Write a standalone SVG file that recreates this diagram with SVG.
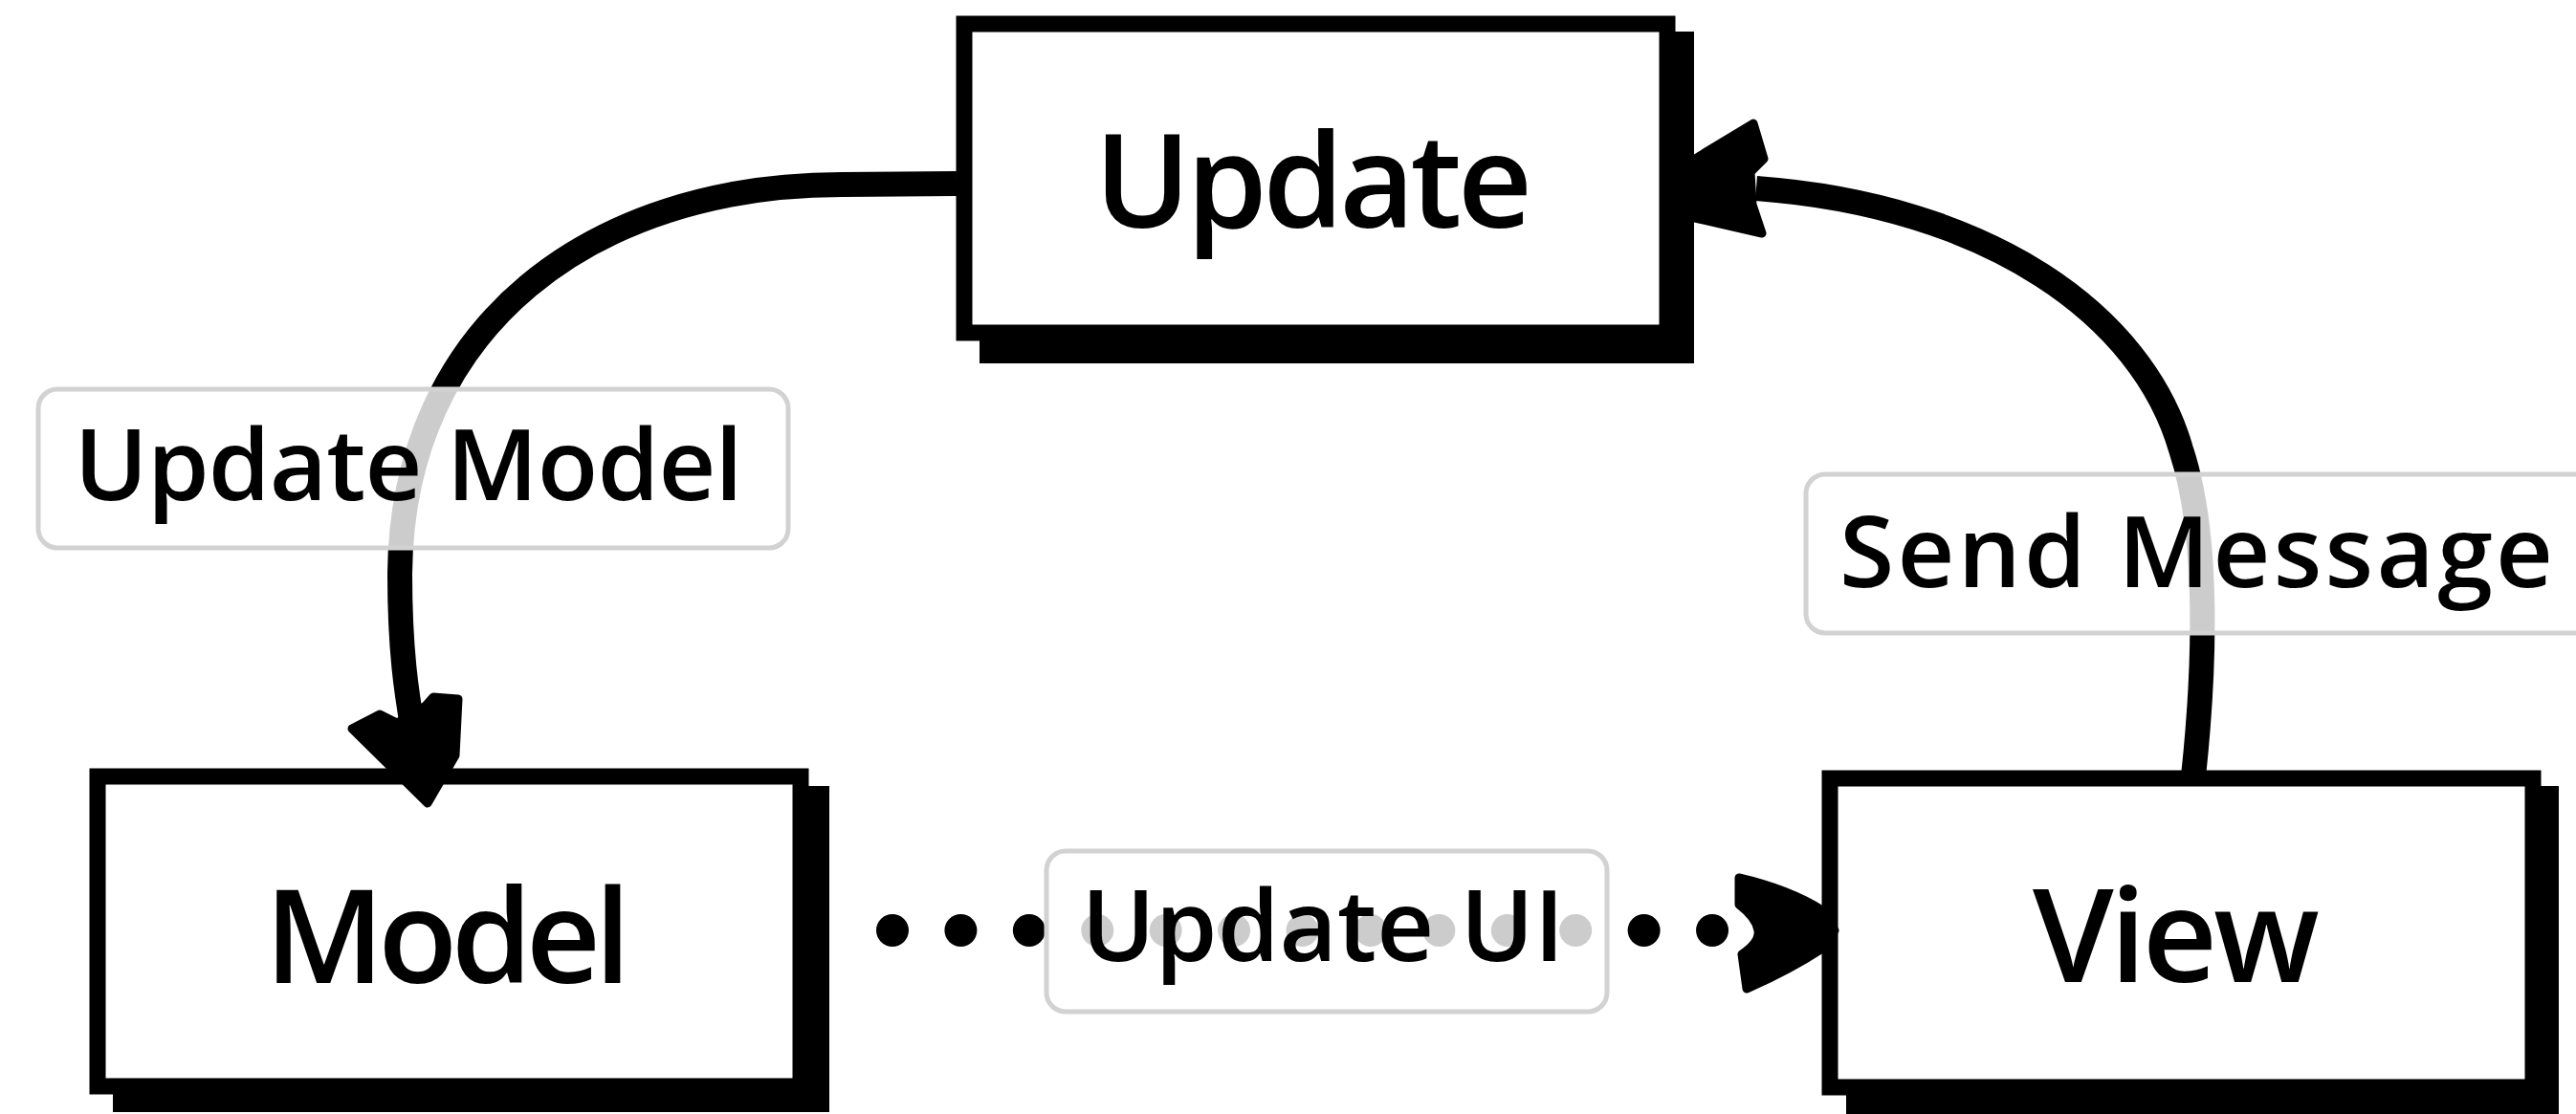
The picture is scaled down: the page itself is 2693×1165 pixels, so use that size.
<svg xmlns="http://www.w3.org/2000/svg" width="2693" height="1165" viewBox="0 0 2693 1165">
  <style>
    .shadow { fill: #000; }
    .frame { fill: #fff; stroke: #000; stroke-width: 17; stroke-linejoin: miter; }
    .node-text { font-family: "Open Sans", "Lato", "Liberation Sans", sans-serif; font-weight: 600; font-size: 136px; fill: #000; text-anchor: middle; }
    .edge { fill: none; stroke: #000; stroke-width: 26; stroke-linecap: butt; stroke-linejoin: round; }
    .dots { fill: none; stroke: #000; stroke-width: 34; stroke-linecap: round; stroke-dasharray: 0 71.42; }
    .head { fill: #000; stroke: #000; stroke-width: 9; stroke-linejoin: round; }
    .label-bg { fill: #fff; fill-opacity: 0.8; stroke: #d2d2d2; stroke-width: 5; }
    .label-text { font-family: "Open Sans", "Lato", "Liberation Sans", sans-serif; font-weight: 600; font-size: 104px; fill: #000; text-anchor: middle; }
  </style>

  <rect width="2693" height="1165" fill="#fff"/>

  <!-- Update -->
  <g id="node-update">
    <rect class="shadow" x="1024" y="33" width="747" height="347"/>
    <rect class="frame" x="1008" y="25" width="735" height="323"/>
    <text class="node-text" x="1373" y="238" textLength="458">Update</text>
  </g>

  <!-- Model -->
  <g id="node-model">
    <rect class="shadow" x="118" y="822" width="749" height="341"/>
    <rect class="frame" x="102" y="812" width="735" height="324"/>
    <text class="node-text" x="468" y="1028" textLength="383">Model</text>
  </g>

  <!-- View -->
  <g id="node-view">
    <rect class="shadow" x="1930" y="822" width="745" height="343"/>
    <rect class="frame" x="1913" y="814" width="735" height="323"/>
    <text class="node-text" x="2275" y="1027" textLength="300">View</text>
  </g>

  <!-- Connectors -->
  <g id="connectors">
    <!-- Update -> Model -->
    <path class="edge" d="M1000,192 L880,193 C620,193 420,340 418,600 C418,680 425,725 432,765"/>
    <path class="head" d="M447,840 L368,762 L397,747 L415,756 L445,738 L453,729 L479,731 L476,790 Z"/>

    <!-- View -> Update -->
    <path class="edge" d="M2293,812 C2305,700 2310,560 2280,470 C2240,330 2080,215 1836,197"/>
    <path class="head" d="M1772,166 L1833,129 L1844,166 L1830,180 L1832,214 L1842,244 L1772,228 Z"/>

    <!-- Model -> View (dotted) -->
    <path class="dots" d="M933,973 L1792,973"/>
    <path class="head" d="M1818,918 Q1870,930 1905,952 L1918,973 L1905,992 Q1870,1015 1826,1034 L1821,998 Q1840,985 1838,973 Q1836,960 1818,946 Z"/>

    <!-- Edge labels -->
    <g id="label-update-model">
      <rect class="label-bg" x="40" y="407" width="784" height="166" rx="20"/>
      <text class="label-text" x="427" y="523" textLength="699">Update Model</text>
    </g>
    <g id="label-send-message">
      <rect class="label-bg" x="1888" y="496" width="840" height="166" rx="20"/>
      <text class="label-text" x="2296" y="614" textLength="746">Send Message</text>
    </g>
    <g id="label-update-ui">
      <rect class="label-bg" x="1094" y="890" width="586" height="168" rx="20"/>
      <text class="label-text" x="1383" y="1005" textLength="505">Update UI</text>
    </g>
  </g>
</svg>
